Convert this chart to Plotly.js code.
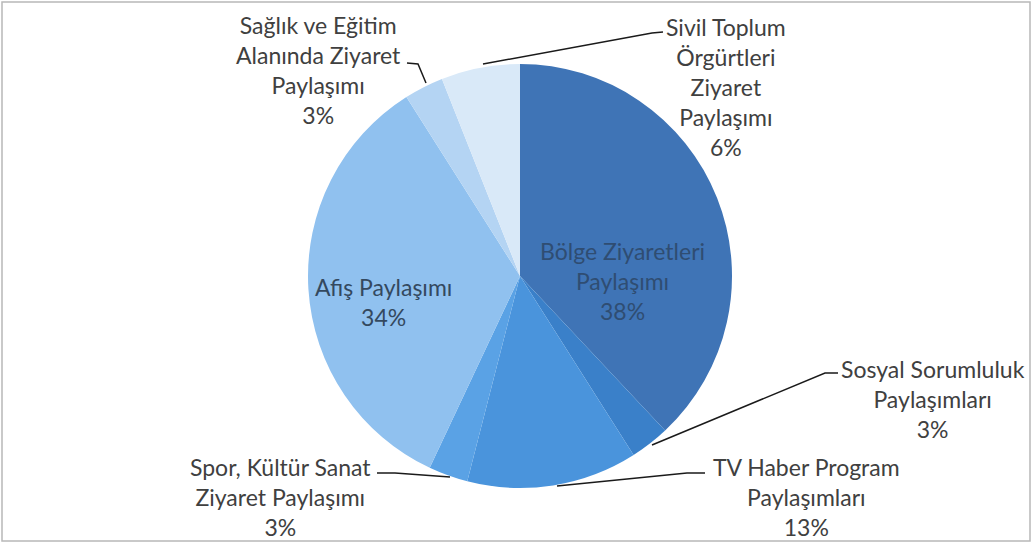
<!DOCTYPE html>
<html>
<head>
<meta charset="utf-8">
<script src="https://cdn.plot.ly/plotly-3.0.1.min.js"></script>
<style>html,body{margin:0;padding:0;background:#fff;}#chart{width:1033px;height:556px;}</style>
</head>
<body>
<div id="chart"></div>
<script>
// ---- data ----
const categories = [
  "Bölge Ziyaretleri<br>Paylaşımı",
  "Sosyal Sorumluluk<br>Paylaşımları",
  "TV Haber Program<br>Paylaşımları",
  "Spor, Kültür Sanat<br>Ziyaret Paylaşımı",
  "Afiş Paylaşımı",
  "Sağlık ve Eğitim<br>Alanında Ziyaret<br>Paylaşımı",
  "Sivil Toplum<br>Örgürtleri<br>Ziyaret<br>Paylaşımı"
];
const percents = [38, 3, 13, 3, 34, 3, 6];
const sliceColors = ["#3f74b6", "#3a80c9", "#4a94dc", "#5aa2e5", "#90c1ef", "#b4d4f3", "#d9e9f8"];

// ---- layout helpers (pixel -> paper) ----
const W = 1033, H = 556;
const px = x => x / W, py = y => 1 - y / H;

// label placement (pixel centres) and leader lines, per category index
const labelPos = [[622, 281], [933, 399], [806, 497], [280, 497], [383, 302], [318, 70], [726, 87]];
const labelColor = ["#2f4d72", "#404040", "#404040", "#404040", "#34495f", "#404040", "#404040"];
const leaders = [
  null,
  [[838, 373], [825, 373], [652, 445]],
  [[705, 473], [687, 473], [557, 486]],
  [[377, 473], [395, 473], [450, 477]],
  null,
  [[407, 63], [418, 64], [426, 83]],
  [[663, 32], [652, 33], [483, 64]]
];

const cx = 520, cy = 276, r = 212;

const trace = {
  type: "pie",
  values: percents,
  labels: categories,
  sort: false,
  direction: "clockwise",
  rotation: 0,
  marker: { colors: sliceColors, line: { width: 0 } },
  textinfo: "none",
  hoverinfo: "skip",
  showlegend: false,
  domain: { x: [px(cx - r), px(cx + r)], y: [py(cy + r), py(cy - r)] }
};

const annotations = categories.map((c, i) => ({
  xref: "paper", yref: "paper",
  x: px(labelPos[i][0]), y: py(labelPos[i][1]),
  xanchor: "center", yanchor: "middle", align: "center",
  showarrow: false,
  text: c + "<br>" + percents[i] + "%",
  font: { family: "Lato, 'Open Sans', sans-serif", size: 23, color: labelColor[i] }
}));

const shapes = [{
  type: "rect", xref: "paper", yref: "paper",
  x0: px(2), x1: px(1030), y0: py(541), y1: py(2),
  line: { color: "#b8b8b8", width: 1.5 }, fillcolor: "rgba(0,0,0,0)"
}];
leaders.forEach(l => {
  if (!l) return;
  shapes.push({
    type: "path", xref: "paper", yref: "paper",
    path: l.map((p, k) => (k ? "L" : "M") + px(p[0]) + "," + py(p[1])).join(" "),
    line: { color: "#1a1a1a", width: 1.5 }
  });
});

Plotly.newPlot("chart", [trace], {
  width: W, height: H,
  margin: { l: 0, r: 0, t: 0, b: 0 },
  paper_bgcolor: "#ffffff",
  annotations: annotations,
  shapes: shapes
}, { displayModeBar: false, staticPlot: true });
</script>
</body>
</html>
